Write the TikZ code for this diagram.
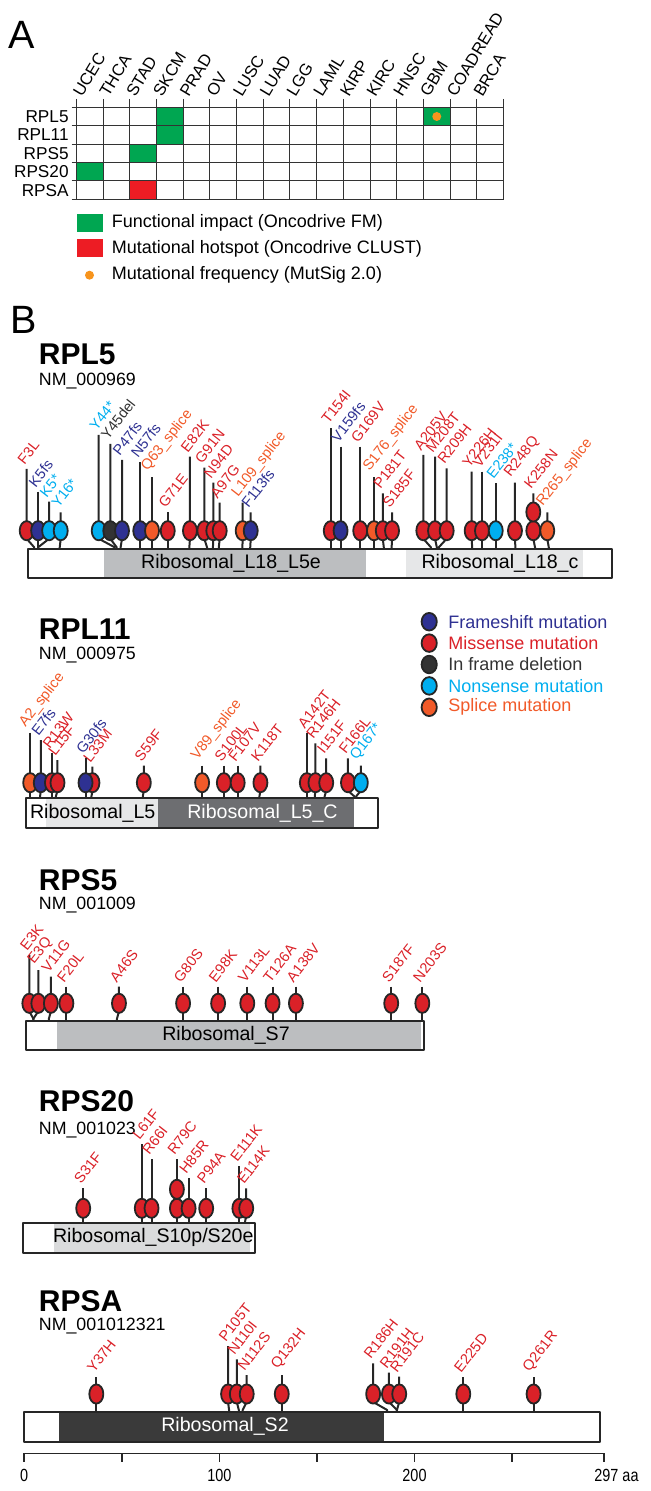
\documentclass[tikz,border=0pt]{standalone}
\usepackage{fontspec}
\setmainfont{Liberation Sans}
\newfontfamily\narrowfont[FakeStretch=0.82]{Liberation Sans}
\definecolor{fmgreen}{HTML}{00A651}
\definecolor{hotred}{HTML}{ED1C24}
\definecolor{freqorange}{HTML}{F7941D}
\definecolor{fsblue}{HTML}{2E3192}
\definecolor{misred}{HTML}{DA2128}
\definecolor{delgray}{HTML}{333333}
\definecolor{noncyan}{HTML}{00AEEF}
\definecolor{splorange}{HTML}{F15A29}
\definecolor{domgrey}{HTML}{BCBEC0}
\definecolor{domlight}{HTML}{E6E7E8}
\definecolor{domdark}{HTML}{6D6E71}
\definecolor{domblack}{HTML}{3A3A3A}
\tikzset{
  gridl/.style={line width=0.5pt, black!80},
  rowlab/.style={font=\fontsize{8.6}{9}\selectfont, anchor=east, inner sep=0pt},
  collab/.style={font=\fontsize{8.3}{9}\selectfont, rotate=59, anchor=south west, inner sep=0pt},
  legtxt/.style={font=\fontsize{9}{10}\selectfont, anchor=west, inner sep=0pt},
  panel/.style={font=\fontsize{19.75}{22}\selectfont, anchor=base west, inner sep=0pt},
  gene/.style={font=\fontsize{15}{17}\selectfont\bfseries, anchor=base west, inner sep=0pt},
  acc/.style={font=\fontsize{8.9}{10}\selectfont, anchor=base west, inner sep=0pt},
  domtxt/.style={font=\fontsize{9.8}{11}\selectfont, inner sep=0pt},
  bar/.style={line width=1.1pt, black!85},
  stick/.style={line width=1pt, black!85},
  dot/.style={line width=0.9pt, draw=black!85},
  mlab/.style={font=\fontsize{7.3}{8}\selectfont, rotate=52, anchor=south west, inner sep=0pt},
  axlab/.style={font=\narrowfont\fontsize{8.8}{10}\selectfont, anchor=base, inner sep=0pt}
}
\begin{document}
\begin{tikzpicture}[x=0.5pt, y=-0.5pt, line join=round]
\useasboundingbox (0,0) rectangle (650,1491);

% ---------- panel A
\node[panel] (pa) at (8,48.3) {A};
\fill[fmgreen] (156.4,107.3) rectangle (183.1,144.1);
\fill[fmgreen] (423.4,107.3) rectangle (450.1,125.7);
\fill[fmgreen] (129.7,144.1) rectangle (156.4,162.5);
\fill[fmgreen] (76.3,162.5) rectangle (103,180.9);
\fill[hotred] (129.7,180.9) rectangle (156.4,199.3);
\fill[freqorange] (436.75,116.5) circle (2.25pt);
\foreach \i in {0,...,16} \draw[gridl] ({76.3+26.7*\i},99) -- ({76.3+26.7*\i},199.3);
\foreach \j in {0,...,5} \draw[gridl] (71.7,{107.3+18.4*\j}) -- (503.5,{107.3+18.4*\j});
\foreach \r [count=\i from 0] in {RPL5,RPL11,RPS5,RPS20,RPSA}
  \node[rowlab] (row\i) at (69,{116.5+18.4*\i}) {\r};
\foreach \c [count=\i from 0] in {UCEC,THCA,STAD,SKCM,PRAD,OV,LUSC,LUAD,LGG,LAML,KIRP,KIRC,HNSC,GBM,COADREAD,BRCA}
  \node[collab] (col\i) at ({76.3+26.7*\i+6},98.5) {\c};
% legend A
\fill[fmgreen] (77,214.3) rectangle (103.3,232.3);
\fill[hotred] (77,239.3) rectangle (103.3,257.5);
\fill[freqorange] (89.5,275.2) circle (2.25pt);
\node[legtxt] (lga) at (111.5,223.3) {Functional impact (Oncodrive FM)};
\node[legtxt] (lgb) at (111.5,248.4) {Mutational hotspot (Oncodrive CLUST)};
\node[legtxt] (lgc) at (111.5,275.2) {Mutational frequency (MutSig 2.0)};

% ---------- panel B
\node[panel] (pb) at (10,334) {B};

% RPL5
\node[gene] (g1) at (38.5,365) {RPL5};
\node[acc] (n1) at (38.5,385.7) {NM\_000969};
\fill[domgrey] (104,549.3) rectangle (365.7,578.3);
\fill[domlight] (406,549.3) rectangle (582.7,578.3);
\draw[bar] (28.3,549.3) rectangle (611.7,578.3);
\node[domtxt] (d1a) at (231,563.8) {Ribosomal\_L18\_L5e};
\node[domtxt] (d1b) at (500,563.8) {Ribosomal\_L18\_c};
\def\xo{28.3}\def\sc{1.964}\def\cy{530.7}\def\bt{549.3}
\foreach \a/\d/\t/\c/\l [count=\k] in {
  3/-7.5/469/misred/F3L, 5/0/491.7/fsblue/K5fs, 5/11/501.7/noncyan/K5*,
  16/1/512.3/noncyan/Y16*, 44/-16/435/noncyan/Y44*, 45/-6.4/444/delgray/Y45del,
  47/1.4/460/fsblue/P47fs, 57/0/462.3/fsblue/N57fs, 63/0/477.3/splorange/Q63\_splice,
  71/0/512.3/misred/G71E, 82/0.6/456.7/misred/E82K, 91/-2.7/467.7/misred/G91N,
  94/0.4/482.7/misred/N94D, 97/0.9/502.7/misred/A97G, 109/0.3/502.7/splorange/L109\_splice,
  113/0.5/512.3/fsblue/F113fs, 154/0/428.3/misred/T154I, 159/0/446.7/fsblue/V159fs,
  169/0/446.7/misred/G169V, 176/0/477.3/splorange/S176\_splice, 181/-1/493.3/misred/P181T,
  185/0.4/512.3/misred/S185F, 205/-7.6/455/misred/A205V, 208/-1.8/456.7/misred/M208T,
  209/7.9/468.3/misred/R209H, 226/-0.5/471.7/misred/Y226H, 231/0/471.7/misred/V231I,
  238/0/483.3/noncyan/E238*, 248/-0.4/482.7/misred/R248Q, 258/-1.7/493.3/misred/K258N,
  265/-1.5/512.3/splorange/R265\_splice}{
  \pgfmathsetmacro\xa{\xo+\sc*\a}
  \pgfmathsetmacro\xc{\xa+\d}
  \draw[stick] (\xc,\t) -- (\xc,\cy+8) -- (\xa,\bt-2) -- (\xa,\bt);
  \filldraw[dot,fill=\c] (\xc,\cy) ellipse (3.5pt and 4.8pt);
  \node[mlab,text=\c] (m1-\k) at (\xc-2,\t-3) {\l};
}
\filldraw[dot,fill=misred] (533.3,512) ellipse (3.5pt and 4.8pt);

% mutation type legend
\foreach \c/\l [count=\i from 0] in {fsblue/Frameshift mutation, misred/Missense mutation,
  delgray/In frame deletion, noncyan/Nonsense mutation, splorange/Splice mutation}{
  \filldraw[dot,fill=\c] (429.2,{621.7+21.4*\i}) ellipse (3.8pt and 4.4pt);
  \node[legtxt,text=\c] (mt\i) at (448,{621.7+21.4*\i}) {\l};
}

% RPL11
\node[gene] (g2) at (38.5,639.3) {RPL11};
\node[acc] (n2) at (38.5,659.3) {NM\_000975};
\fill[domlight] (45.8,798.3) rectangle (158.3,828.3);
\fill[domdark] (158.3,798.3) rectangle (354.2,828.3);
\draw[bar] (26.25,798.3) rectangle (377.9,828.3);
\node[domtxt] (d2a) at (92.7,813.3) {Ribosomal\_L5};
\node[domtxt,text=white] (d2b) at (262.5,813.3) {Ribosomal\_L5\_C};
\def\xo{26.25}\def\sc{1.976}\def\cy{782.7}\def\bt{798.3}
\foreach \a/\d/\t/\c/\l [count=\k] in {
  2/0/732.7/splorange/A2\_splice, 7/0.7/740/fsblue/E7fs, 13/0/753.3/misred/R13W,
  15/1.6/760/misred/L15F, 33/1/766.7/misred/L33M, 30/0/758.3/fsblue/G30fs,
  59/1/765.7/misred/S59F, 89/0/765.7/splorange/V89\_splice, 100/0/765.7/misred/S100L,
  107/0/765.7/misred/F107V, 118/1/765.7/misred/K118T, 142/0/732.7/misred/A142T,
  146/0.7/743.3/misred/R146H, 151/1.6/758.3/misred/I151F, 166/-6.3/758.3/misred/F166L,
  167/4.6/765.7/noncyan/Q167*}{
  \pgfmathsetmacro\xa{\xo+\sc*\a}
  \pgfmathsetmacro\xc{\xa+\d}
  \draw[stick] (\xc,\t) -- (\xc,\cy+8) -- (\xa,\bt-2) -- (\xa,\bt);
  \filldraw[dot,fill=\c] (\xc,\cy) ellipse (3.5pt and 4.8pt);
  \node[mlab,text=\c] (m2-\k) at (\xc-2,\t-3) {\l};
}

% RPS5
\node[gene] (g3) at (38.5,890) {RPS5};
\node[acc] (n3) at (38.5,909.3) {NM\_001009};
\fill[domgrey] (57,1020.7) rectangle (421,1050);
\draw[bar] (26.25,1020.7) rectangle (423.75,1050);
\node[domtxt] (d3) at (226,1035.3) {Ribosomal\_S7};
\def\xo{27.5}\def\sc{1.945}\def\cy{1003.3}\def\bt{1020.7}
\foreach \a/\d/\t/\c/\l [count=\k] in {
  3/-4/955/misred/E3K, 3/5/970/misred/E3Q, 11/2/976.7/misred/V11G,
  20/0/986.7/misred/F20L, 46/2/986.7/misred/A46S, 80/0/986.7/misred/G80S,
  98/0/986.7/misred/E98K, 113/0/986.7/misred/V113L, 126/0/986.7/misred/T126A,
  138/0/986.7/misred/A138V, 187/0/986.7/misred/S187F, 203/0/986.7/misred/N203S}{
  \pgfmathsetmacro\xa{\xo+\sc*\a}
  \pgfmathsetmacro\xc{\xa+\d}
  \draw[stick] (\xc,\t) -- (\xc,\cy+8) -- (\xa,\bt-2) -- (\xa,\bt);
  \filldraw[dot,fill=\c] (\xc,\cy) ellipse (3.5pt and 4.8pt);
  \node[mlab,text=\c] (m3-\k) at (\xc-2,\t-3) {\l};
}

% RPS20
\node[gene] (g4) at (38.5,1111.7) {RPS20};
\node[acc] (n4) at (38.5,1134.3) {NM\_001023};
\fill[domlight!70!domgrey] (54,1222.7) rectangle (250,1252.7);
\draw[bar] (22.7,1222.7) rectangle (255,1252.7);
\node[domtxt] (d4) at (153.3,1237.7) {Ribosomal\_S10p/S20e};
\def\xo{22.7}\def\sc{1.952}\def\cy{1208.3}\def\bt{1222.7}
\foreach \a/\d/\t/\c/\l [count=\k] in {
  31/0/1188.3/misred/S31F, 61/0/1144/misred/L61F, 66/0/1159.3/misred/R66I,
  79/0/1159.3/misred/R79C, 85/0/1178.3/misred/H85R, 94/0/1188.3/misred/P94A,
  111/0/1166/misred/E111K, 114/1/1188.3/misred/E114K}{
  \pgfmathsetmacro\xa{\xo+\sc*\a}
  \pgfmathsetmacro\xc{\xa+\d}
  \draw[stick] (\xc,\t) -- (\xc,\cy+8) -- (\xa,\bt-2) -- (\xa,\bt);
  \filldraw[dot,fill=\c] (\xc,\cy) ellipse (3.5pt and 4.8pt);
  \node[mlab,text=\c] (m4-\k) at (\xc-2,\t-3) {\l};
}
\filldraw[dot,fill=misred] (176.9,1189.3) ellipse (3.5pt and 4.8pt);

% RPSA
\node[gene] (g5) at (38.5,1311.7) {RPSA};
\node[acc] (n5) at (38.5,1330.7) {NM\_001012321};
\fill[domblack] (58.9,1412) rectangle (383.8,1441.7);
\draw[bar] (24.1,1412) rectangle (600,1441.7);
\node[domtxt,text=white] (d5) at (225,1426.8) {Ribosomal\_S2};
\def\xo{24.1}\def\sc{1.952}\def\cy{1394}\def\bt{1412}
\foreach \a/\d/\t/\c/\l [count=\k] in {
  37/0/1377.3/misred/Y37H, 105/-1/1346/misred/P105T, 110/-2/1359.3/misred/N110I,
  112/4/1375/misred/N112S, 132/0/1375/misred/Q132H, 186/-14/1363.3/misred/R186H,
  191/-8/1372.7/misred/R191H, 191/2.3/1376.7/misred/R191C, 225/0/1377.3/misred/E225D,
  261/0/1377.3/misred/Q261R}{
  \pgfmathsetmacro\xa{\xo+\sc*\a}
  \pgfmathsetmacro\xc{\xa+\d}
  \draw[stick] (\xc,\t) -- (\xc,\cy+8) -- (\xa,\bt-2) -- (\xa,\bt);
  \filldraw[dot,fill=\c] (\xc,\cy) ellipse (3.5pt and 4.8pt);
  \node[mlab,text=\c] (m5-\k) at (\xc-2,\t-3) {\l};
}

% axis
\draw[bar,line width=0.8pt] (24.1,1453.3) -- (603.8,1453.3);
\foreach \a in {0,50,...,250,297} \draw[bar,line width=0.8pt] ({24.1+1.952*\a},1453.3) -- ({24.1+1.952*\a},1461.5);
\node[axlab] (t0) at (24.1,1481) {0};
\node[axlab] (t100) at (219.3,1481) {100};
\node[axlab] (t200) at (414.5,1481) {200};
\node[axlab,anchor=base west] (t297) at (594,1481) {297 aa};
\end{tikzpicture}
\end{document}
